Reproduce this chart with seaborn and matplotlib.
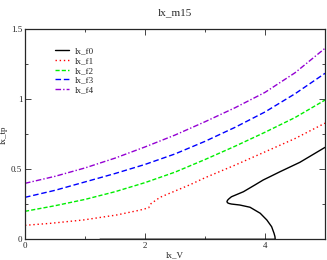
import pandas as pd
import matplotlib
matplotlib.use("Agg")
import matplotlib.pyplot as plt
from matplotlib.ticker import MultipleLocator, FormatStrFormatter
import seaborn as sns

# curves
f0_x = [1.25, 4.17, 4.165, 4.15, 4.11, 4.03, 3.92, 3.75, 3.58, 3.44, 3.40, 3.375, 3.365, 3.375, 3.40, 3.44,
        3.64, 3.83, 3.97, 4.08, 4.25, 4.58, 5.00]
f0_y = [0.0, 0.0, 0.02, 0.043, 0.09, 0.138, 0.186, 0.229, 0.245, 0.252, 0.256, 0.261, 0.269, 0.279, 0.290, 0.304,
        0.340, 0.388, 0.424, 0.447, 0.483, 0.550, 0.657]

f1_x = [0.0, 0.42, 0.97, 1.53, 1.92, 2.06, 2.10, 2.25, 2.75, 3.0, 3.5, 4.08, 4.5, 5.0]
f1_y = [0.10, 0.114, 0.138, 0.174, 0.209, 0.225, 0.255, 0.300, 0.390, 0.440, 0.530, 0.640, 0.720, 0.830]

grid_x = [0.0, 0.5, 1.0, 1.5, 2.0, 2.5, 3.0, 3.5, 4.0, 4.5, 5.0]
f2_y = [0.20, 0.24, 0.285, 0.34, 0.405, 0.48, 0.57, 0.665, 0.765, 0.87, 0.995]
f3_y = [0.30, 0.35, 0.41, 0.47, 0.535, 0.61, 0.70, 0.80, 0.91, 1.04, 1.186]
f4_y = [0.40, 0.45, 0.51, 0.58, 0.66, 0.745, 0.84, 0.94, 1.05, 1.19, 1.365]

names = ["lx_f0", "lx_f1", "lx_f2", "lx_f3", "lx_f4"]
colors = ["#000000", "#ff0000", "#00ee00", "#0000ff", "#9400d3"]

frames = [
    pd.DataFrame({"x": f0_x, "y": f0_y, "curve": names[0]}),
    pd.DataFrame({"x": f1_x, "y": f1_y, "curve": names[1]}),
    pd.DataFrame({"x": grid_x, "y": f2_y, "curve": names[2]}),
    pd.DataFrame({"x": grid_x, "y": f3_y, "curve": names[3]}),
    pd.DataFrame({"x": grid_x, "y": f4_y, "curve": names[4]}),
]
df = pd.concat(frames, ignore_index=True)

sns.set_style("ticks")
plt.rcParams["font.family"] = ["Liberation Serif", "DejaVu Serif"]

fig = plt.figure(figsize=(3.27, 2.60), dpi=100)
ax = fig.add_axes([0.0765, 0.0796, 0.9175, 0.8074])

dashes = {names[0]: "", names[1]: (1, 2), names[2]: (3, 1.5),
          names[3]: (4, 2), names[4]: (4, 1.5, 1, 1.5)}
sns.lineplot(data=df, x="x", y="y", hue="curve", style="curve",
             palette=dict(zip(names, colors)), dashes=dashes,
             sort=False, estimator=None, linewidth=1.0, ax=ax)

ax.set_xlim(0, 5)
ax.set_ylim(0, 1.5)
ax.xaxis.set_major_locator(MultipleLocator(2))
ax.xaxis.set_minor_locator(MultipleLocator(1))
ax.yaxis.set_major_locator(MultipleLocator(0.5))
ax.yaxis.set_minor_locator(MultipleLocator(0.25))
ax.yaxis.set_major_formatter(FormatStrFormatter("%g"))
ax.tick_params(which="both", direction="in", top=True, right=True,
               labelsize=6.5, width=0.6, pad=2)
ax.tick_params(which="major", length=4)
ax.tick_params(which="minor", length=2)
for s in ax.spines.values():
    s.set_linewidth(0.9)

ax.set_xlabel("lx_V", fontsize=6.5, labelpad=1)
ax.set_ylabel("lx_tp", fontsize=6.5, labelpad=2)
ax.set_title("lx_m15", fontsize=8, pad=10)

ax.legend(loc="upper left", bbox_to_anchor=(0.10, 0.915), frameon=False,
          fontsize=6.5, handlelength=1.5, handletextpad=0.7, labelspacing=0.15,
          borderpad=0, borderaxespad=0)

fig.savefig("out.png", dpi=100)
